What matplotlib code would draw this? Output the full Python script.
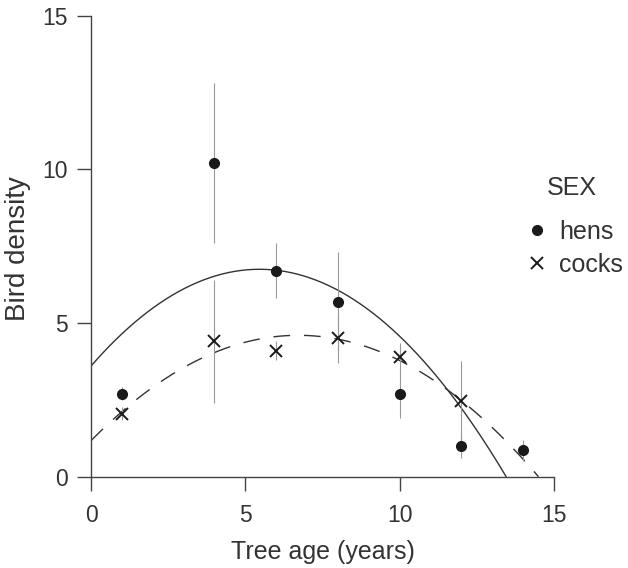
import numpy as np
from matplotlib import pyplot as plt

plt.rcParams['font.family'] = ['Liberation Sans', 'DejaVu Sans']

ages = [1, 4, 6, 8, 10, 12, 14]
hens = [2.7, 10.2, 6.7, 5.7, 2.7, 1.0, 0.85]
hens_err = [0.2, 2.6, 0.9, 1.6, 0.8, 0.4, 0.35]

cock_ages = [1, 4, 6, 8, 10, 12]
cocks = [2.05, 4.4, 4.1, 4.5, 3.9, 2.45]
cocks_err = [0.2, 2.0, 0.3, 0.8, 0.45, 1.3]

# quadratic fits (highest power first) and the x range each is drawn over
hens_fit = [-0.1057, 1.154, 3.60]
hens_fit_range = [0, 13.45]
cocks_fit = [-0.076, 1.021, 1.17]
cocks_fit_range = [0, 14.5]

ticks = [0, 5, 10, 15]


def main():
    fig = plt.figure(figsize=(6.28, 5.68), dpi=100)
    ax = fig.add_axes([0.145, 0.161, 0.737, 0.811])

    xs = np.linspace(*hens_fit_range, 200)
    ax.plot(xs, np.polyval(hens_fit, xs), color='#333333', lw=1)
    xs = np.linspace(*cocks_fit_range, 200)
    ax.plot(xs, np.polyval(cocks_fit, xs), color='#333333', lw=1,
            dashes=(12, 10))

    ax.errorbar(ages, hens, yerr=hens_err, fmt='none', ecolor='#999999',
                elinewidth=0.8)
    ax.errorbar(cock_ages, cocks, yerr=cocks_err, fmt='none',
                ecolor='#999999', elinewidth=0.8)

    ax.plot(ages, hens, 'o', color='#1a1a1a', ms=7, label='hens',
            clip_on=False)
    ax.plot(cock_ages, cocks, 'x', color='#1a1a1a', ms=8, mew=1.4,
            label='cocks', clip_on=False)

    ax.set_xlim(0, 15)
    ax.set_ylim(0, 15)
    ax.set_xticks(ticks)
    ax.set_yticks(ticks)
    ax.spines[['top', 'right']].set_visible(False)
    for s in ('left', 'bottom'):
        ax.spines[s].set_color('#444444')
        ax.spines[s].set_linewidth(1)
    ax.tick_params(direction='out', length=10, width=1, color='#444444',
                   labelsize=16.5, labelcolor='#333333', pad=7)
    ax.tick_params(axis='x', pad=10)

    ax.set_xlabel('Tree age (years)', fontsize=18, color='#333333',
                  labelpad=9)
    ax.set_ylabel('Bird density', fontsize=20, color='#333333')
    ax.yaxis.set_label_coords(31 / 628, 1 - 249 / 568,
                              transform=fig.transFigure)

    fig.text(572 / 628, 1 - 188 / 568, 'SEX', fontsize=18,
             color='#333333', ha='center', va='center')
    ax.legend(loc='upper left',
              bbox_to_anchor=(524 / 628, 1 - 220 / 568),
              bbox_transform=fig.transFigure, frameon=False,
              borderpad=0, borderaxespad=0,
              fontsize=18, handletextpad=0.4,
              handlelength=1.0, labelspacing=0.35,
              labelcolor='#333333')

    fig.savefig('out.png', dpi=100)


if __name__ == '__main__':
    main()
